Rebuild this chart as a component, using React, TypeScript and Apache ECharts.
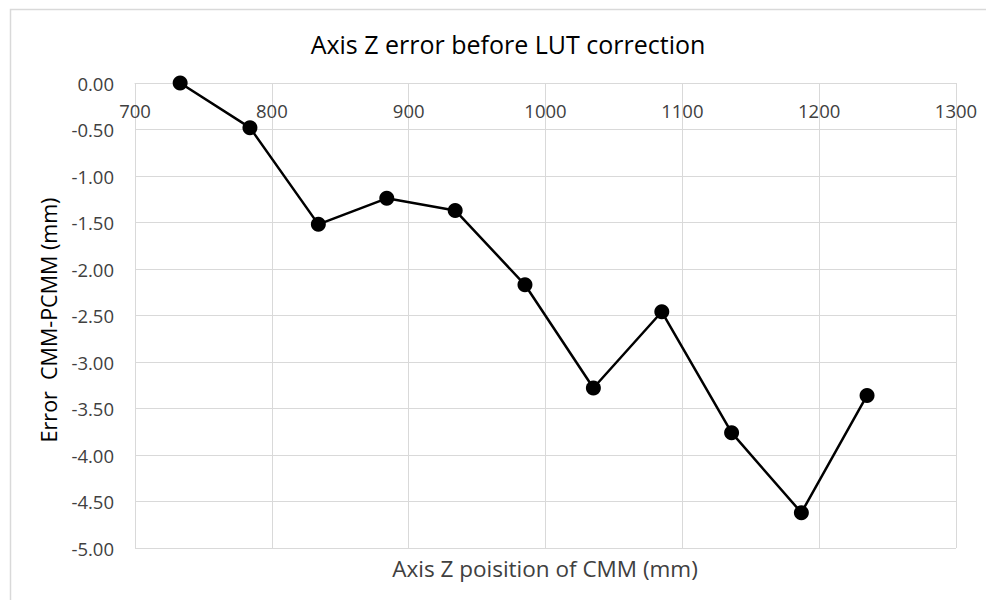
import React, { useEffect, useRef } from "react";
import * as echarts from "echarts";

const xPositions = [733, 784, 834, 884, 934, 985, 1035, 1085, 1136, 1187, 1235];
const errors = [0, -0.48, -1.52, -1.24, -1.37, -2.17, -3.28, -2.46, -3.76, -4.62, -3.36];
const titleText = "Axis Z error before LUT correction";
const xName = "Axis Z poisition of CMM (mm)";
const yName = "Error  CMM-PCMM (mm)";

export default function App() {
  const ref = useRef<HTMLDivElement>(null);
  useEffect(() => {
    if (!ref.current) return;
    const chart = echarts.init(ref.current, null, { renderer: "svg" });
    const font = "'Open Sans', sans-serif";
    const grid = "#d9d9d9";
    chart.setOption({
      animation: false,
      backgroundColor: "#fff",
      textStyle: { fontFamily: font },
      title: {
        text: titleText,
        left: 503,
        top: 26,
        textAlign: "center",
        textStyle: { fontFamily: font, fontSize: 25, fontWeight: "normal", color: "#000" },
      },
      grid: { left: 135, right: 30, top: 83, bottom: 52 },
      xAxis: {
        type: "value",
        position: "top",
        min: 700,
        max: 1300,
        interval: 100,
        axisLine: { show: true, onZero: false, lineStyle: { color: grid, width: 1 } },
        axisTick: { show: false },
        axisLabel: {
          inside: true,
          margin: 18,
          color: "#404040",
          fontSize: 18.5,
          fontFamily: font,
          formatter: (v: number) => String(v),
        },
        splitLine: { show: true, lineStyle: { color: grid, width: 1 } },
      },
      yAxis: {
        type: "value",
        min: -5,
        max: 0,
        interval: 0.5,
        axisLine: { show: false },
        axisTick: { show: false },
        axisLabel: {
          margin: 21,
          color: "#404040",
          fontSize: 18.5,
          fontFamily: font,
          formatter: (v: number) => v.toFixed(2),
        },
        splitLine: { show: true, lineStyle: { color: grid, width: 1 } },
      },
      graphic: [
        {
          type: "rect",
          left: 8,
          top: 7,
          shape: { width: 1000, height: 620 },
          style: { fill: "none", stroke: "#d9d9d9", lineWidth: 1.5 },
          silent: true,
          z: -1,
        },
        {
          type: "text",
          x: 545,
          y: 568,
          style: {
            text: xName,
            fill: "#404040",
            font: `22.5px ${font}`,
            textAlign: "center",
            textVerticalAlign: "middle",
          },
        },
        {
          type: "text",
          x: 48,
          y: 320,
          rotation: Math.PI / 2,
          style: {
            text: yName,
            fill: "#000",
            font: `21.5px ${font}`,
            textAlign: "center",
            textVerticalAlign: "middle",
          },
        },
      ],
      series: [
        {
          type: "line",
          data: xPositions.map((x, i) => [x, errors[i]]),
          symbol: "circle",
          symbolSize: 15,
          itemStyle: { color: "#000" },
          lineStyle: { color: "#000", width: 2.5 },
        },
      ],
    });
    return () => chart.dispose();
  }, []);
  return <div ref={ref} style={{ width: 986, height: 600, position: "absolute", left: 0, top: 0 }} />;
}
